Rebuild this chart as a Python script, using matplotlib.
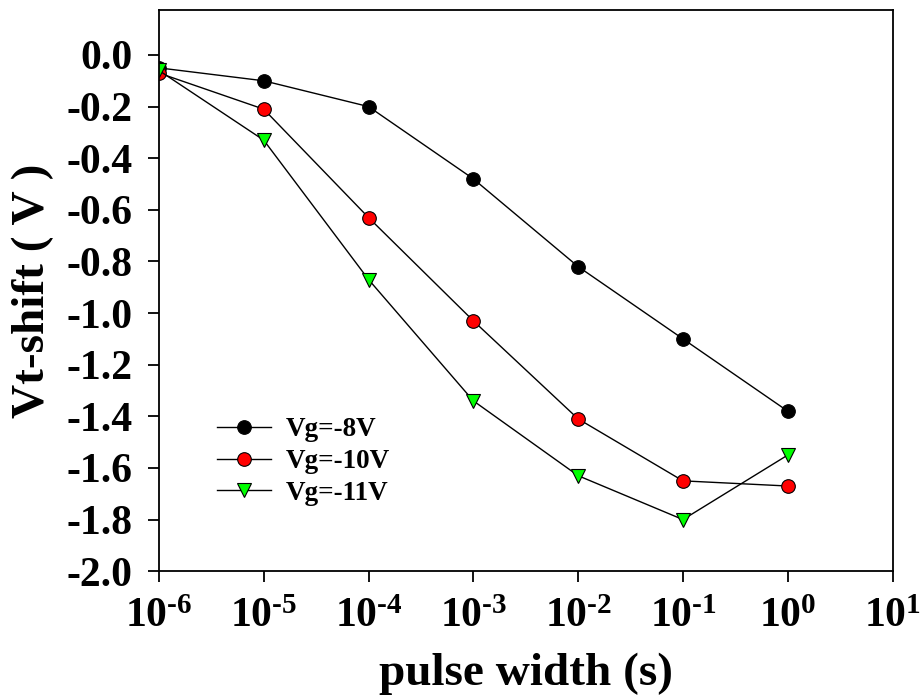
import numpy as np
import matplotlib
matplotlib.use('Agg')
import matplotlib.pyplot as plt
from matplotlib.ticker import NullLocator

# Datos
pulse_width = [1e-6, 1e-5, 1e-4, 1e-3, 1e-2, 1e-1, 1e0]
vt_8v = [-0.05, -0.10, -0.20, -0.48, -0.82, -1.10, -1.38]
vt_10v = [-0.07, -0.21, -0.63, -1.03, -1.41, -1.65, -1.67]
vt_11v = [-0.06, -0.33, -0.87, -1.34, -1.63, -1.80, -1.55]
labels = ['Vg=-8V', 'Vg=-10V', 'Vg=-11V']
x_exponents = [-6, -5, -4, -3, -2, -1, 0, 1]
y_ticks = [-2.0, -1.8, -1.6, -1.4, -1.2, -1.0, -0.8, -0.6, -0.4, -0.2, 0.0]

plt.rcParams['font.family'] = ['Liberation Serif', 'DejaVu Serif']
plt.rcParams['font.weight'] = 'bold'
plt.rcParams['mathtext.fontset'] = 'custom'
plt.rcParams['mathtext.rm'] = 'Liberation Serif:bold'
plt.rcParams['mathtext.bf'] = 'Liberation Serif:bold'
plt.rcParams['mathtext.default'] = 'bf'
plt.rcParams['axes.unicode_minus'] = False

fig = plt.figure(figsize=(9.24, 7.0), dpi=100)
ax = fig.add_axes([0.172, 0.184, 0.794, 0.802])

ax.plot(pulse_width, vt_8v, '-o', color='black', lw=1.0, ms=9.8,
        mfc='black', mec='black', mew=0.8, label=labels[0])
ax.plot(pulse_width, vt_10v, '-o', color='black', lw=1.0, ms=9.8,
        mfc='#ff0000', mec='black', mew=0.8, label=labels[1])
ax.plot(pulse_width, vt_11v, '-v', color='black', lw=1.0, ms=10.5,
        mfc='#00ff00', mec='black', mew=0.8, label=labels[2])

ax.set_xscale('log')
ax.set_xlim(1e-6, 1e1)
ax.set_ylim(-2.0, 0.175)
ax.set_xticks([10.0 ** e for e in x_exponents])
ax.set_xticklabels([r'$10^{\text{%d}}$' % e for e in x_exponents])
ax.xaxis.set_minor_locator(NullLocator())
ax.set_yticks(y_ticks)
ax.set_yticklabels(['%.1f' % v for v in y_ticks])

ax.tick_params(axis='both', direction='out', length=8, width=1.3, labelsize=30)
ax.tick_params(axis='y', pad=11)
ax.tick_params(axis='x', pad=11)
ax.tick_params(top=False, right=False)
for s in ax.spines.values():
    s.set_linewidth(1.3)

ax.set_xlabel('pulse width (s)', fontsize=34, fontweight='bold', labelpad=12)
ax.set_ylabel('Vt-shift ( V )', fontsize=34, fontweight='bold', labelpad=9)

ax.legend(loc='upper left', bbox_to_anchor=(0.079, 0.274), frameon=False,
          fontsize=19.5, handlelength=2.0, handletextpad=0.55, labelspacing=0.25,
          borderpad=0, borderaxespad=0)

fig.savefig('out.png', dpi=100)
